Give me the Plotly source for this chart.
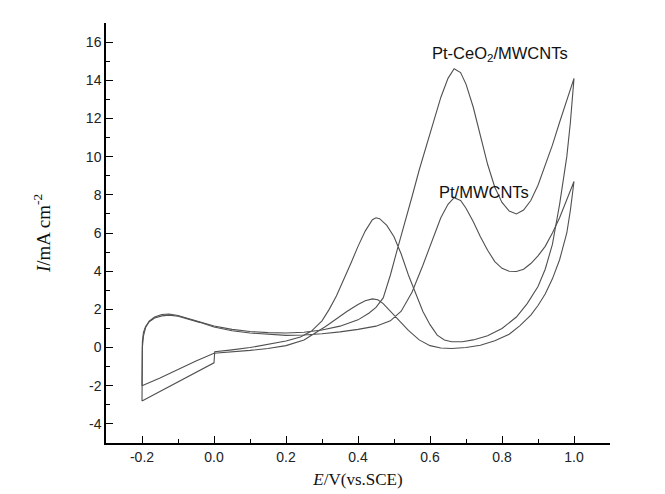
import plotly.graph_objects as go

# Pt-CeO2/MWCNTs: forward scan (-0.2 -> 1.0 V) then reverse scan (1.0 -> -0.2 V)
ceo2_fwd_E = [-0.2, -0.2, -0.199, -0.196, -0.19, -0.18, -0.165, -0.145, -0.125, -0.1, -0.07, -0.04,
              0.0, 0.05, 0.1, 0.15, 0.2, 0.25, 0.3, 0.35, 0.4, 0.43, 0.45, 0.47, 0.49, 0.51, 0.53,
              0.55, 0.57, 0.59, 0.61, 0.63, 0.65, 0.667, 0.685, 0.70, 0.72, 0.74, 0.76, 0.78, 0.80,
              0.82, 0.84, 0.86, 0.88, 0.90, 0.92, 0.94, 0.96, 0.98, 1.0]
ceo2_fwd_I = [-2.8, -1.0, 0.0, 0.6, 1.05, 1.38, 1.6, 1.73, 1.76, 1.68, 1.52, 1.35,
              1.13, 0.95, 0.84, 0.78, 0.76, 0.8, 0.92, 1.12, 1.45, 1.8, 2.1, 2.6, 3.8, 5.2, 6.5,
              7.9, 9.3, 10.6, 11.8, 13.1, 14.1, 14.6, 14.4, 13.8, 12.6, 11.1, 9.6, 8.4, 7.6,
              7.15, 7.0, 7.2, 7.7, 8.5, 9.5, 10.6, 11.8, 12.9, 14.1]
ceo2_rev_E = [0.99, 0.98, 0.96, 0.94, 0.92, 0.90, 0.87, 0.84, 0.80, 0.76, 0.72, 0.69, 0.66, 0.64,
              0.62, 0.60, 0.58, 0.56, 0.54, 0.52, 0.50, 0.48, 0.46, 0.45, 0.44, 0.42, 0.40, 0.38,
              0.36, 0.34, 0.32, 0.30, 0.27, 0.24, 0.20, 0.15, 0.10, 0.05, 0.002, 0.0, -0.05, -0.1,
              -0.15, -0.2]
ceo2_rev_I = [11.8, 10.0, 7.5, 5.4, 4.1, 3.2, 2.3, 1.6, 1.0, 0.62, 0.4, 0.3, 0.3, 0.4,
              0.65, 1.2, 1.9, 2.8, 3.8, 4.9, 5.8, 6.4, 6.75, 6.8, 6.7, 6.1, 5.3, 4.4,
              3.5, 2.7, 2.0, 1.4, 0.85, 0.55, 0.34, 0.15, 0.0, -0.12, -0.22, -0.8, -1.3, -1.8,
              -2.3, -2.8]

# Pt/MWCNTs
pt_fwd_E = [-0.2, -0.2, -0.199, -0.196, -0.19, -0.18, -0.165, -0.145, -0.125, -0.1, -0.07, -0.04,
            0.0, 0.05, 0.1, 0.15, 0.2, 0.25, 0.3, 0.35, 0.4, 0.45, 0.49, 0.52, 0.55, 0.58, 0.61,
            0.63, 0.65, 0.667, 0.685, 0.70, 0.72, 0.74, 0.76, 0.78, 0.80, 0.82, 0.84, 0.86, 0.88,
            0.90, 0.92, 0.94, 0.96, 0.98, 1.0]
pt_fwd_I = [-2.0, -0.5, 0.3, 0.8, 1.1, 1.35, 1.55, 1.66, 1.7, 1.64, 1.5, 1.32,
            1.08, 0.88, 0.76, 0.69, 0.64, 0.66, 0.72, 0.82, 0.95, 1.12, 1.4, 1.9, 2.9, 4.3, 5.8,
            6.8, 7.5, 7.85, 7.7, 7.3, 6.6, 5.8, 5.1, 4.5, 4.15, 4.0, 3.98, 4.1, 4.4,
            4.8, 5.3, 6.0, 6.8, 7.7, 8.7]
pt_rev_E = [0.99, 0.98, 0.96, 0.94, 0.92, 0.90, 0.88, 0.85, 0.82, 0.78, 0.74, 0.70, 0.66, 0.63,
            0.60, 0.57, 0.54, 0.51, 0.49, 0.47, 0.455, 0.44, 0.42, 0.40, 0.37, 0.34, 0.31, 0.28,
            0.25, 0.20, 0.15, 0.10, 0.05, 0.0, -0.05, -0.1, -0.15, -0.2]
pt_rev_I = [7.2, 6.0, 4.6, 3.6, 2.8, 2.2, 1.7, 1.15, 0.7, 0.35, 0.12, 0.0, -0.05, -0.02,
            0.1, 0.4, 0.9, 1.5, 1.95, 2.3, 2.5, 2.55, 2.45, 2.25, 1.9, 1.5, 1.1, 0.75,
            0.4, 0.1, -0.05, -0.15, -0.22, -0.3, -0.7, -1.15, -1.6, -2.0]

x_ticks = [-0.2, 0.0, 0.2, 0.4, 0.6, 0.8, 1.0]
x_ticktext = ["-0.2", "0.0", "0.2", "0.4", "0.6", "0.8", "1.0"]
y_ticks = [-4, -2, 0, 2, 4, 6, 8, 10, 12, 14, 16]
y_ticktext = ["-4", "-2", "0", "2", "4", "6", "8", "10", "12", "14", "16"]

line_color = "#505050"
fig = go.Figure()
fig.add_trace(go.Scatter(x=ceo2_fwd_E + ceo2_rev_E, y=ceo2_fwd_I + ceo2_rev_I, mode="lines",
                         line=dict(color=line_color, width=1.1), name="Pt-CeO2/MWCNTs"))
fig.add_trace(go.Scatter(x=pt_fwd_E + pt_rev_E, y=pt_fwd_I + pt_rev_I, mode="lines",
                         line=dict(color=line_color, width=1.1), name="Pt/MWCNTs"))

fig.add_annotation(x=0.795, y=15.4, text="Pt-CeO<sub>2</sub>/MWCNTs", showarrow=False,
                   font=dict(family="Liberation Sans, Arial", size=16.5, color="#111"))
fig.add_annotation(x=0.75, y=8.15, text="Pt/MWCNTs", showarrow=False,
                   font=dict(family="Liberation Sans, Arial", size=16.5, color="#111"))

axis_common = dict(showline=True, linecolor="black", linewidth=1.5, ticks="inside",
                   tickcolor="black", ticklen=7, tickwidth=1.3, showgrid=False, zeroline=False,
                   mirror=False,
                   tickfont=dict(family="Liberation Sans, Arial", size=14, color="#222"))

fig.update_xaxes(range=[-0.3, 1.1], tickvals=x_ticks, ticktext=x_ticktext,
                 minor=dict(ticks="inside", dtick=0.1, tick0=-0.3, ticklen=4, tickwidth=1.2,
                            tickcolor="black"),
                 title=dict(text="<i>E</i>/V(vs.SCE)",
                            font=dict(family="Liberation Serif, Times New Roman", size=17,
                                      color="#111"), standoff=10),
                 **axis_common)
fig.update_yaxes(range=[-5, 17], tickvals=y_ticks, ticktext=y_ticktext,
                 minor=dict(ticks="inside", dtick=1, tick0=-5, ticklen=4, tickwidth=1.2,
                            tickcolor="black"),
                 title=dict(text="<i>I</i>/mA cm<sup>-2</sup>",
                            font=dict(family="Liberation Serif, Times New Roman", size=19,
                                      color="#111"), standoff=30),
                 **axis_common)

fig.update_layout(width=665, height=494, showlegend=False,
                  plot_bgcolor="white", paper_bgcolor="white",
                  margin=dict(l=98, r=63, t=15, b=59))

fig.write_html("out.html")
